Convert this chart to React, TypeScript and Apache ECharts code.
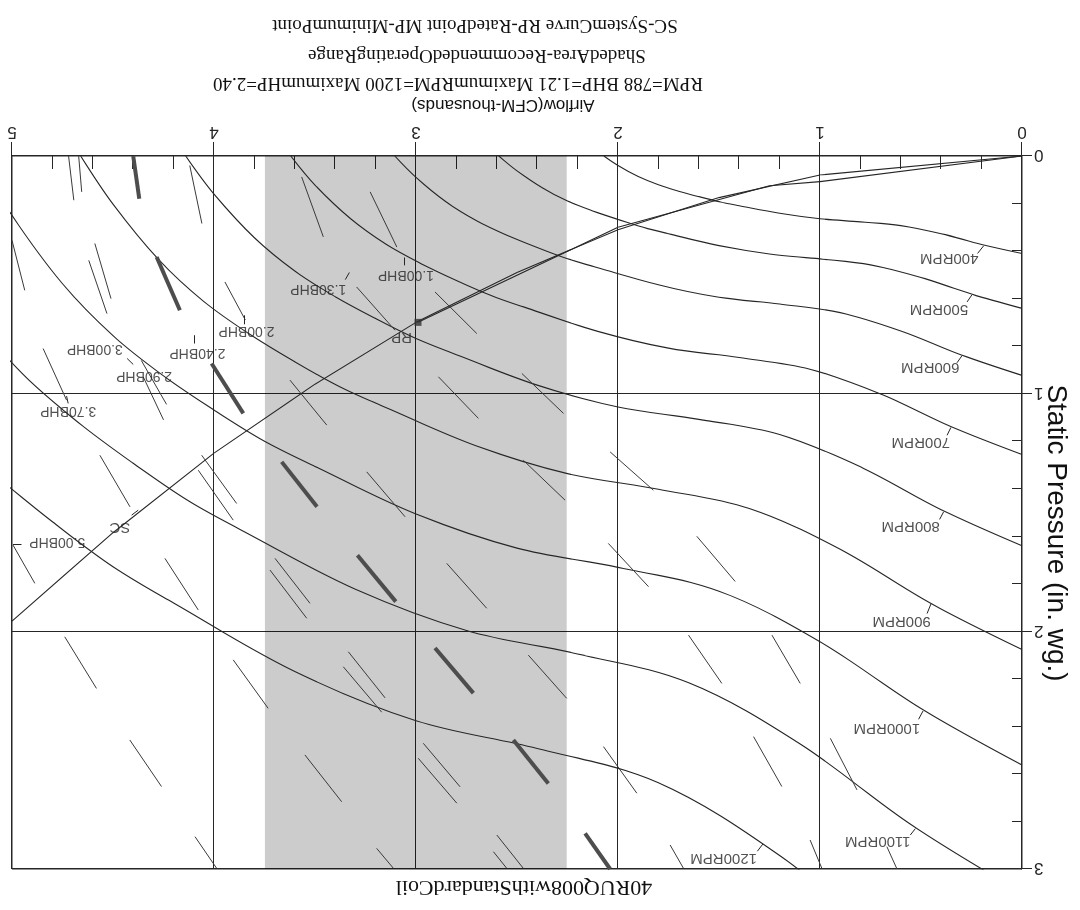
import { useEffect, useRef } from "react";
import * as echarts from "echarts";

// ---------- data (airflow in CFM-thousands, static pressure in in. wg.) ----------
const AIRFLOW_MAX = 5;
const PRESSURE_MAX = 3;

const RPM_400 = [[0, 0.41], [0.2, 0.372], [0.4, 0.327], [0.6, 0.293], [0.8, 0.277], [1.0, 0.264], [1.2, 0.241], [1.4, 0.209], [1.5, 0.192], [1.6, 0.171], [1.7, 0.148], [1.8, 0.121], [1.9, 0.086], [2.0, 0.04], [2.07, 0]];
const RPM_500 = [[0, 0.641], [0.25, 0.581], [0.5, 0.511], [0.75, 0.458], [1.0, 0.433], [1.25, 0.4125], [1.5, 0.377], [1.75, 0.327], [1.875, 0.3], [2.0, 0.267], [2.125, 0.231], [2.25, 0.189], [2.375, 0.134], [2.5, 0.0625], [2.59, 0]];
const RPM_600 = [[0, 0.923], [0.3, 0.837], [0.6, 0.736], [0.9, 0.659], [1.2, 0.623], [1.5, 0.594], [1.8, 0.542], [2.1, 0.47], [2.25, 0.432], [2.4, 0.385], [2.55, 0.333], [2.7, 0.272], [2.85, 0.1935], [3.0, 0.09], [3.105, 0]];
const RPM_700 = [[0, 1.256], [0.35, 1.139], [0.7, 1.001], [1.05, 0.897], [1.4, 0.848], [1.75, 0.8085], [2.1, 0.738], [2.45, 0.64], [2.625, 0.588], [2.8, 0.524], [2.975, 0.453], [3.15, 0.3705], [3.325, 0.263], [3.5, 0.1225], [3.62, 0]];
const RPM_800 = [[0, 1.64], [0.4, 1.488], [0.8, 1.308], [1.2, 1.172], [1.6, 1.108], [2.0, 1.056], [2.4, 0.964], [2.8, 0.836], [3.0, 0.768], [3.2, 0.684], [3.4, 0.592], [3.6, 0.484], [3.8, 0.344], [4.0, 0.16], [4.14, 0]];
const RPM_900 = [[0, 2.076], [0.45, 1.883], [0.9, 1.655], [1.35, 1.483], [1.8, 1.402], [2.25, 1.3365], [2.7, 1.22], [3.15, 1.058], [3.375, 0.972], [3.6, 0.866], [3.825, 0.749], [4.05, 0.6125], [4.275, 0.435], [4.5, 0.2025], [4.66, 0]];
const RPM_1000 = [[0, 2.5625], [0.5, 2.325], [1.0, 2.044], [1.5, 1.831], [2.0, 1.731], [2.5, 1.65], [3.0, 1.506], [3.5, 1.306], [3.75, 1.2], [4.0, 1.069], [4.25, 0.925], [4.5, 0.756], [4.75, 0.5375], [5.0, 0.25], [5.175, 0]];
const RPM_1100 = [[0, 3.1], [0.55, 2.813], [1.1, 2.473], [1.65, 2.216], [2.2, 2.095], [2.75, 1.9965], [3.3, 1.8226], [3.85, 1.5806], [4.125, 1.452], [4.4, 1.293], [4.675, 1.119], [4.95, 0.915], [5.225, 0.65]];
const RPM_1200 = [[0, 3.69], [0.6, 3.348], [1.2, 2.943], [1.8, 2.637], [2.4, 2.493], [3.0, 2.376], [3.6, 2.169], [4.2, 1.881], [4.5, 1.728], [4.8, 1.539], [5.1, 1.332]];

const RPM_NAMES = ["400RPM", "500RPM", "600RPM", "700RPM", "800RPM", "900RPM", "1000RPM", "1100RPM", "1200RPM"];
const RPM_LABEL_AT = [[0.36, 0.435], [0.411, 0.652], [0.454, 0.894], [0.501, 1.208], [0.551, 1.563], [0.596, 1.964], [0.669, 2.415], [0.714, 2.89], [1.477, 2.958]];
const RPM_LEADERS = [[0.19, 0.378, 0.22, 0.41], [0.248, 0.584, 0.272, 0.614], [0.297, 0.84, 0.322, 0.87], [0.352, 1.142, 0.371, 1.175], [0.388, 1.497, 0.408, 1.529], [0.451, 1.885, 0.47, 1.925], [0.49, 2.335, 0.512, 2.37], [0.528, 2.83, 0.553, 2.857], [1.283, 2.895, 1.31, 2.925]];

// system curve and the rated-point line
const SYSTEM_CURVE = [[0, 0], [1, 0.08], [1.5, 0.175], [2, 0.31], [2.5, 0.49], [3, 0.7], [3.5, 0.96], [4, 1.25], [4.5, 1.585], [5, 1.957]];
const RATED_LINE = [[0, 0], [1.0, 0.108], [1.25, 0.125], [2.0, 0.3], [2.99, 0.7]];
const RATED_POINT = [2.99, 0.7];

// recommended operating range (shaded)
const SHADE_FROM = 2.254;
const SHADE_TO = 3.748;

// BHP lines, dashed: each entry is one dash [airflow1, sp1, airflow2, sp2]
const BHP_100 = [[3.227, 0.151, 3.095, 0.383], [2.906, 0.572, 2.699, 0.747], [2.476, 0.915, 2.27, 1.083], [2.039, 1.245, 1.825, 1.406], [1.61, 1.6, 1.42, 1.79], [1.238, 2.016, 1.098, 2.219], [0.949, 2.45, 0.817, 2.667], [0.669, 2.906, 0.619, 3.0]];
const BHP_130 = [[3.566, 0.088, 3.459, 0.34], [3.294, 0.551, 3.104, 0.733], [2.889, 0.929, 2.691, 1.104], [2.469, 1.28, 2.262, 1.448], [2.048, 1.63, 1.849, 1.812], [1.651, 2.016, 1.486, 2.219], [1.329, 2.443, 1.189, 2.653], [1.049, 2.878, 0.991, 2.997]];
const BHP_200 = [[4.12, 0.04, 4.06, 0.284], [3.946, 0.53, 3.845, 0.69], [3.624, 0.943, 3.442, 1.132], [3.244, 1.329, 3.054, 1.518], [2.848, 1.714, 2.65, 1.903], [2.444, 2.1, 2.254, 2.282], [2.072, 2.485, 1.907, 2.681], [1.742, 2.899, 1.676, 2.997]];
const BHP_240 = [[4.4, 0, 4.37, 0.18], [4.284, 0.425, 4.169, 0.649], [4.012, 0.873, 3.855, 1.083], [3.665, 1.287, 3.49, 1.476], [3.29, 1.68, 3.1, 1.875], [2.906, 2.07, 2.716, 2.26], [2.518, 2.457, 2.345, 2.64], [2.163, 2.85, 2.039, 3.0]];
const BHP_290 = [[4.72, 0, 4.694, 0.186], [4.62, 0.439, 4.53, 0.663], [4.36, 0.86, 4.235, 1.045], [4.061, 1.259, 3.888, 1.462], [3.698, 1.693, 3.525, 1.882], [3.335, 2.086, 3.153, 2.28], [2.964, 2.471, 2.782, 2.654], [2.6, 2.857, 2.469, 2.997]];
const BHP_300 = [[4.67, 0, 4.655, 0.151], [4.59, 0.368, 4.51, 0.6], [4.35, 0.93, 4.25, 1.11], [4.078, 1.322, 3.905, 1.532], [3.723, 1.742, 3.541, 1.945], [3.36, 2.149, 3.17, 2.34], [2.989, 2.534, 2.798, 2.723], [2.617, 2.927, 2.551, 2.997]];
const BHP_370 = [[5.0, 0.355, 4.937, 0.565], [4.846, 0.81, 4.73, 1.027], [4.565, 1.259, 4.416, 1.476], [4.243, 1.693, 4.078, 1.91], [3.905, 2.12, 3.732, 2.324], [3.55, 2.52, 3.368, 2.717], [3.195, 2.913, 3.112, 2.997]];
const BHP_500 = [[4.995, 1.637, 4.887, 1.798], [4.739, 2.023, 4.582, 2.24], [4.417, 2.457, 4.26, 2.653], [4.094, 2.864, 3.987, 2.997]];

const BHP_NAMES = ["1.00BHP", "1.30BHP", "2.00BHP", "2.40BHP", "2.90BHP", "3.00BHP", "3.70BHP", "5.00BHP"];
const BHP_LABEL_AT = [[3.05, 0.505], [3.484, 0.565], [3.839, 0.74], [4.082, 0.831], [4.346, 0.929], [4.59, 0.817], [4.722, 1.077], [4.776, 1.63]];
const BHP_LEADERS = [[3.054, 0.427, 3.054, 0.46], [3.33, 0.49, 3.35, 0.52], [3.847, 0.67, 3.847, 0.708], [4.094, 0.754, 4.094, 0.789], [4.43, 0.852, 4.4, 0.877], [4.73, 1.01, 4.722, 1.041], [4.995, 1.637, 4.953, 1.637]];

const POINT_NAMES = ["SC", "RP"];
const POINT_LABEL_AT = [[4.466, 1.567], [3.071, 0.768]];
const POINT_LEADERS = [[4.375, 1.49, 4.408, 1.511]];

// texts
const TITLE = "40RUQ008withStandardCoil";
const X_NAME = "Airflow(CFM-thousands)";
const Y_NAME = "Static Pressure (in. wg.)";
const INFO_LINES = [
  "RPM=788 BHP=1.21 MaximumRPM=1200 MaximumHP=2.40",
  "ShadedArea-RecommendedOperatingRange",
  "SC-SystemCurve RP-RatedPoint MP-MinimumPoint",
];

// ---------- styling ----------
const INK = "#262626";
const SANS = "'Liberation Sans', Arial, sans-serif";
const SERIF = "'Liberation Serif', 'Times New Roman', serif";

const seg = (s: number[]) => ({ coords: [[s[0], s[1]], [s[2], s[3]]] });

const curve = (name: string, data: number[][]) => ({
  type: "line",
  name,
  data,
  symbol: "none",
  showSymbol: false,
  smooth: 0.35,
  lineStyle: { color: INK, width: 1.1 },
  silent: true,
  z: 3,
});

const dashes = (name: string, segs: number[][], width: number, color: string) => ({
  type: "lines",
  name,
  coordinateSystem: "cartesian2d",
  polyline: false,
  data: segs.map(seg),
  lineStyle: { color, width, opacity: 1, curveness: 0 },
  silent: true,
  z: 4,
});

const labels = (name: string, names: string[], at: number[][], fontSize: number) => ({
  type: "scatter",
  name,
  data: names.map((t, i) => ({ name: t, value: at[i] })),
  symbolSize: 1,
  itemStyle: { color: "rgba(0,0,0,0)" },
  label: {
    show: true,
    position: "inside",
    formatter: "{b}",
    fontSize,
    fontFamily: SANS,
    color: INK,
  },
  silent: true,
  z: 6,
});

function buildOption() {
  return {
    animation: false,
    backgroundColor: "#ffffff",
    grid: {
      left: 58,
      right: 12,
      top: 41,
      bottom: 156,
      show: true,
      borderColor: INK,
      borderWidth: 1,
      backgroundColor: "transparent",
    },
    xAxis: [
      {
        type: "value",
        min: 0,
        max: AIRFLOW_MAX,
        interval: 1,
        position: "bottom",
        axisLine: { show: true, onZero: false, lineStyle: { color: INK } },
        axisTick: { show: true, inside: false, length: 14, lineStyle: { color: INK } },
        axisLabel: { show: true, margin: 15, fontSize: 17, fontFamily: SANS, color: INK, showMinLabel: true, showMaxLabel: true },
        splitLine: { show: true, lineStyle: { color: INK, width: 1 } },
      },
      {
        type: "value",
        min: 0,
        max: AIRFLOW_MAX,
        interval: 0.2,
        position: "bottom",
        axisLine: { show: false },
        axisTick: { show: true, inside: true, length: 13, lineStyle: { color: INK } },
        axisLabel: { show: false },
        splitLine: { show: false },
      },
    ],
    yAxis: [
      {
        type: "value",
        min: 0,
        max: PRESSURE_MAX,
        interval: 1,
        position: "left",
        axisLine: { show: true, onZero: false, lineStyle: { color: INK } },
        axisTick: { show: true, inside: false, length: 10, lineStyle: { color: INK } },
        axisLabel: { show: true, margin: 12, fontSize: 17, fontFamily: SANS, color: INK, showMinLabel: true, showMaxLabel: true },
        splitLine: { show: true, lineStyle: { color: INK, width: 1 } },
      },
      {
        type: "value",
        min: 0,
        max: PRESSURE_MAX,
        interval: 0.2,
        position: "left",
        axisLine: { show: false },
        axisTick: { show: true, inside: true, length: 10, lineStyle: { color: INK } },
        axisLabel: { show: false },
        splitLine: { show: false },
      },
    ],
    series: [
      {
        type: "line",
        name: "Recommended range",
        data: [[SHADE_FROM, 0]],
        symbol: "none",
        showSymbol: false,
        lineStyle: { opacity: 0 },
        silent: true,
        z: 1,
        markArea: {
          silent: true,
          itemStyle: { color: "rgba(0,0,0,0.2)" },
          data: [[{ xAxis: SHADE_FROM }, { xAxis: SHADE_TO }]],
        },
      },
      curve("400RPM", RPM_400),
      curve("500RPM", RPM_500),
      curve("600RPM", RPM_600),
      curve("700RPM", RPM_700),
      curve("800RPM", RPM_800),
      curve("900RPM", RPM_900),
      curve("1000RPM", RPM_1000),
      curve("1100RPM", RPM_1100),
      curve("1200RPM", RPM_1200),
      {
        type: "line",
        name: "SC",
        data: SYSTEM_CURVE,
        symbol: "none",
        showSymbol: false,
        lineStyle: { color: INK, width: 1.1 },
        silent: true,
        z: 3,
      },
      {
        type: "line",
        name: "Rated line",
        data: RATED_LINE,
        symbol: "none",
        showSymbol: false,
        lineStyle: { color: INK, width: 1.1 },
        silent: true,
        z: 3,
      },
      {
        type: "scatter",
        name: "RP",
        data: [RATED_POINT],
        symbol: "rect",
        symbolSize: 7,
        itemStyle: { color: "#333" },
        silent: true,
        z: 5,
      },
      dashes("1.00BHP", BHP_100, 1, "#3a3a3a"),
      dashes("1.30BHP", BHP_130, 1, "#3a3a3a"),
      dashes("2.00BHP", BHP_200, 1, "#3a3a3a"),
      dashes("2.40BHP", BHP_240, 4, "#4d4d4d"),
      dashes("2.90BHP", BHP_290, 1, "#3a3a3a"),
      dashes("3.00BHP", BHP_300, 1, "#3a3a3a"),
      dashes("3.70BHP", BHP_370, 1, "#3a3a3a"),
      dashes("5.00BHP", BHP_500, 1, "#3a3a3a"),
      dashes("leaders", [...RPM_LEADERS, ...BHP_LEADERS, ...POINT_LEADERS], 1, INK),
      labels("rpm labels", RPM_NAMES, RPM_LABEL_AT, 15),
      labels("bhp labels", BHP_NAMES, BHP_LABEL_AT, 14),
      labels("point labels", POINT_NAMES, POINT_LABEL_AT, 15),
    ],
    graphic: [
      {
        type: "text",
        x: 556,
        y: 21,
        style: { text: TITLE, fontSize: 22, fontFamily: SERIF, fill: "#111", align: "center", verticalAlign: "middle" },
      },
      {
        type: "text",
        x: 577,
        y: 804,
        style: { text: X_NAME, fontSize: 17, fontFamily: SANS, fill: "#111", align: "center", verticalAlign: "middle" },
      },
      {
        type: "text",
        x: 622,
        y: 825,
        style: { text: INFO_LINES[0], fontSize: 19, fontFamily: SERIF, fill: "#111", align: "center", verticalAlign: "middle" },
      },
      {
        type: "text",
        x: 603,
        y: 853,
        style: { text: INFO_LINES[1], fontSize: 19, fontFamily: SERIF, fill: "#111", align: "center", verticalAlign: "middle" },
      },
      {
        type: "text",
        x: 605,
        y: 883,
        style: { text: INFO_LINES[2], fontSize: 19, fontFamily: SERIF, fill: "#111", align: "center", verticalAlign: "middle" },
      },
      {
        type: "text",
        x: 22,
        y: 377,
        rotation: Math.PI / 2,
        style: { text: Y_NAME, fontSize: 28, fontFamily: SANS, fill: "#111", align: "center", verticalAlign: "middle" },
      },
    ],
  };
}

export default function App() {
  const ref = useRef<HTMLDivElement>(null);
  useEffect(() => {
    if (!ref.current) return;
    const chart = echarts.init(ref.current, undefined, { renderer: "svg" });
    chart.setOption(buildOption() as any);
    return () => chart.dispose();
  }, []);
  return (
    <div
      ref={ref}
      style={{
        position: "fixed",
        left: 0,
        top: 0,
        width: 1080,
        height: 910,
        background: "#ffffff",
        transform: "rotate(180deg)",
      }}
    />
  );
}
